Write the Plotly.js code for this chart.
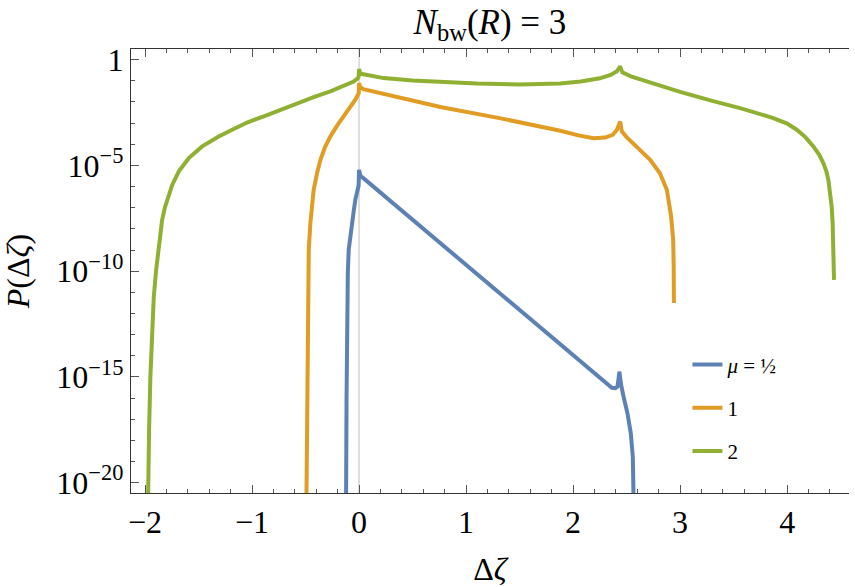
<!DOCTYPE html>
<html>
<head>
<meta charset="utf-8">
<script src="https://cdn.plot.ly/plotly-3.0.1.min.js"></script>
<style>
  html, body { margin: 0; padding: 0; background: #fff; }
  #plot { width: 855px; height: 587px; }
</style>
</head>
<body>
<div id="plot"></div>
<script>
// values: x = Δζ, logP = log10 P(Δζ)
var blueX = [-0.126, -0.121, -0.117, -0.112, -0.105, -0.097, -0.082, -0.065, -0.05, -0.035, -0.015, -0.004, 0, 0.012, 0.04, 0.6, 1.2, 1.8, 2.2, 2.316, 2.362, 2.395, 2.415, 2.433, 2.446, 2.471, 2.508, 2.539, 2.558, 2.564, 2.567]
var blueLogP = [-22, -20.5, -16, -11.4, -10.1, -9.0, -8.3, -7.73, -7.15, -6.63, -6.2, -5.95, -5.21, -5.5, -5.6, -7.98, -10.53, -13.08, -14.78, -15.3, -15.52, -15.53, -15.46, -14.75, -15.3, -15.93, -16.72, -17.67, -18.78, -20.49, -22]

var orangeX = [-0.494, -0.491, -0.486, -0.479, -0.47, -0.455, -0.424, -0.392, -0.361, -0.315, -0.268, -0.205, -0.143, -0.081, -0.035, -0.003, 0, 0.01, 0.04, 0.76, 1.3, 1.88, 2.05, 2.19, 2.3, 2.37, 2.41, 2.44, 2.455, 2.5, 2.63, 2.72, 2.81, 2.876, 2.916, 2.935, 2.94, 2.942]
var orangeLogP = [-22, -20.5, -15, -11.4, -8.99, -7.73, -6.15, -5.36, -4.73, -4.1, -3.63, -3.12, -2.68, -2.21, -1.89, -1.58, -1.1, -1.3, -1.39, -2.24, -2.75, -3.36, -3.58, -3.71, -3.68, -3.55, -3.31, -2.92, -3.39, -3.66, -4.26, -4.73, -5.36, -6.15, -7.42, -8.5, -9.8, -11.5]

var greenX = [-1.975, -1.972, -1.962, -1.95, -1.94, -1.933, -1.918, -1.896, -1.871, -1.84, -1.815, -1.793, -1.746, -1.684, -1.591, -1.466, -1.311, -1.186, -1.046, -0.89, -0.735, -0.579, -0.424, -0.268, -0.144, -0.05, -0.015, -0.003, 0, 0.008, 0.03, 0.23, 0.5, 0.76, 1.1, 1.5, 1.88, 2.07, 2.25, 2.35, 2.41, 2.44, 2.46, 2.54, 2.82, 3.0, 3.3, 3.56, 3.871, 4.0, 4.09, 4.17, 4.245, 4.3, 4.338, 4.365, 4.385, 4.403, 4.416, 4.425, 4.431, 4.435, 4.438]
var greenLogP = [-22, -20.49, -17.5, -15.0, -13.6, -12.78, -11.2, -9.94, -8.68, -7.57, -7.0, -6.63, -5.92, -5.28, -4.65, -4.1, -3.63, -3.31, -2.97, -2.68, -2.37, -2.05, -1.77, -1.5, -1.23, -1.03, -0.9, -0.79, -0.44, -0.62, -0.68, -0.87, -0.98, -1.06, -1.13, -1.17, -1.12, -1.03, -0.88, -0.72, -0.55, -0.32, -0.6, -0.79, -1.26, -1.52, -1.95, -2.29, -2.76, -3.02, -3.31, -3.66, -4.1, -4.5, -4.89, -5.25, -5.68, -6.3, -6.94, -7.7, -8.52, -9.4, -10.41]

var seriesNames = ['<i>μ</i> = ½', '1', '2']
var seriesColors = ['#5E81B5', '#E19C24', '#8FB032']

var yTickVals = [1, 1e-5, 1e-10, 1e-15, 1e-20]
var yTickText = ['1', '10<sup>−5</sup>', '10<sup>−10</sup>', '10<sup>−15</sup>', '10<sup>−20</sup>']

function toP(arr) {
  return arr.map(function (v) { return Math.pow(10, v) })
}

var xs = [blueX, orangeX, greenX]
var ys = [blueLogP, orangeLogP, greenLogP]

var data = []
for (var i = 0; i < 3; i++) {
  data.push({
    x: xs[i], y: toP(ys[i]), type: 'scatter', mode: 'lines',
    name: seriesNames[i], legendgroup: 'g' + i,
    line: {color: seriesColors[i], width: 4}
  })
}

var serif = 'Liberation Serif'

var layout = {
  width: 855,
  height: 587,
  margin: {l: 131, r: 6, t: 49, b: 94},
  paper_bgcolor: '#ffffff',
  plot_bgcolor: '#ffffff',
  font: {family: serif, color: '#000', size: 31},
  showlegend: true,
  title: {
    text: '<i>N</i><sub>bw</sub>(<i>R</i>) = 3',
    font: {family: serif, size: 35, color: '#000'},
    x: 0.5, xref: 'paper', xanchor: 'center',
    y: 0.963, yref: 'container', yanchor: 'middle'
  },
  xaxis: {
    range: [-2.131, 4.578],
    showgrid: false, zeroline: false,
    showline: true, linecolor: '#333', linewidth: 1.2,
    mirror: 'ticks',
    ticks: 'inside', ticklen: 8, tickcolor: '#555', tickwidth: 1,
    dtick: 1, tick0: 0,
    minor: {dtick: 0.2, tick0: 0, ticklen: 4, tickcolor: '#555', ticks: 'inside'},
    tickfont: {family: serif, size: 32, color: '#000'},
    title: {text: 'Δ<i>ζ</i>', font: {family: serif, size: 32, color: '#000'}, standoff: 26},
    automargin: false
  },
  yaxis: {
    type: 'log',
    range: [-20.49, 0.506],
    showgrid: false, zeroline: false,
    showline: true, linecolor: '#333', linewidth: 1.2,
    mirror: false,
    ticks: 'inside', ticklen: 8, tickcolor: '#555', tickwidth: 1,
    tickmode: 'array', tickvals: yTickVals, ticktext: yTickText,
    minor: {dtick: 1, ticklen: 4, tickcolor: '#555', ticks: 'inside'},
    tickfont: {family: serif, size: 32, color: '#000'},
    title: {text: '<i>P</i>(Δ<i>ζ</i>)', font: {family: serif, size: 32, color: '#000'}, standoff: 22},
    automargin: false
  },
  yaxis2: {
    overlaying: 'y', side: 'right', anchor: 'x',
    range: [-23.66, 0.585],
    showgrid: false, zeroline: false,
    showline: true, linecolor: '#333', linewidth: 1.2,
    showticklabels: false,
    ticks: 'inside', ticklen: 8, tickcolor: '#555',
    dtick: 5, tick0: 0,
    minor: {dtick: 1, ticklen: 4, tickcolor: '#555', ticks: 'inside'},
    fixedrange: true
  },
  shapes: [{
    type: 'line', xref: 'x', yref: 'paper', x0: 0, x1: 0, y0: 0, y1: 1,
    line: {color: '#d4d4d4', width: 1.5}, layer: 'below'
  }],
  legend: {
    x: 0.775, y: 0.335, xanchor: 'left', yanchor: 'top',
    bgcolor: 'rgba(0,0,0,0)', borderwidth: 0,
    font: {family: serif, size: 21, color: '#000'},
    traceorder: 'grouped', tracegroupgap: 13
  }
}

Plotly.newPlot('plot', data, layout, {staticPlot: true})
</script>
</body>
</html>
